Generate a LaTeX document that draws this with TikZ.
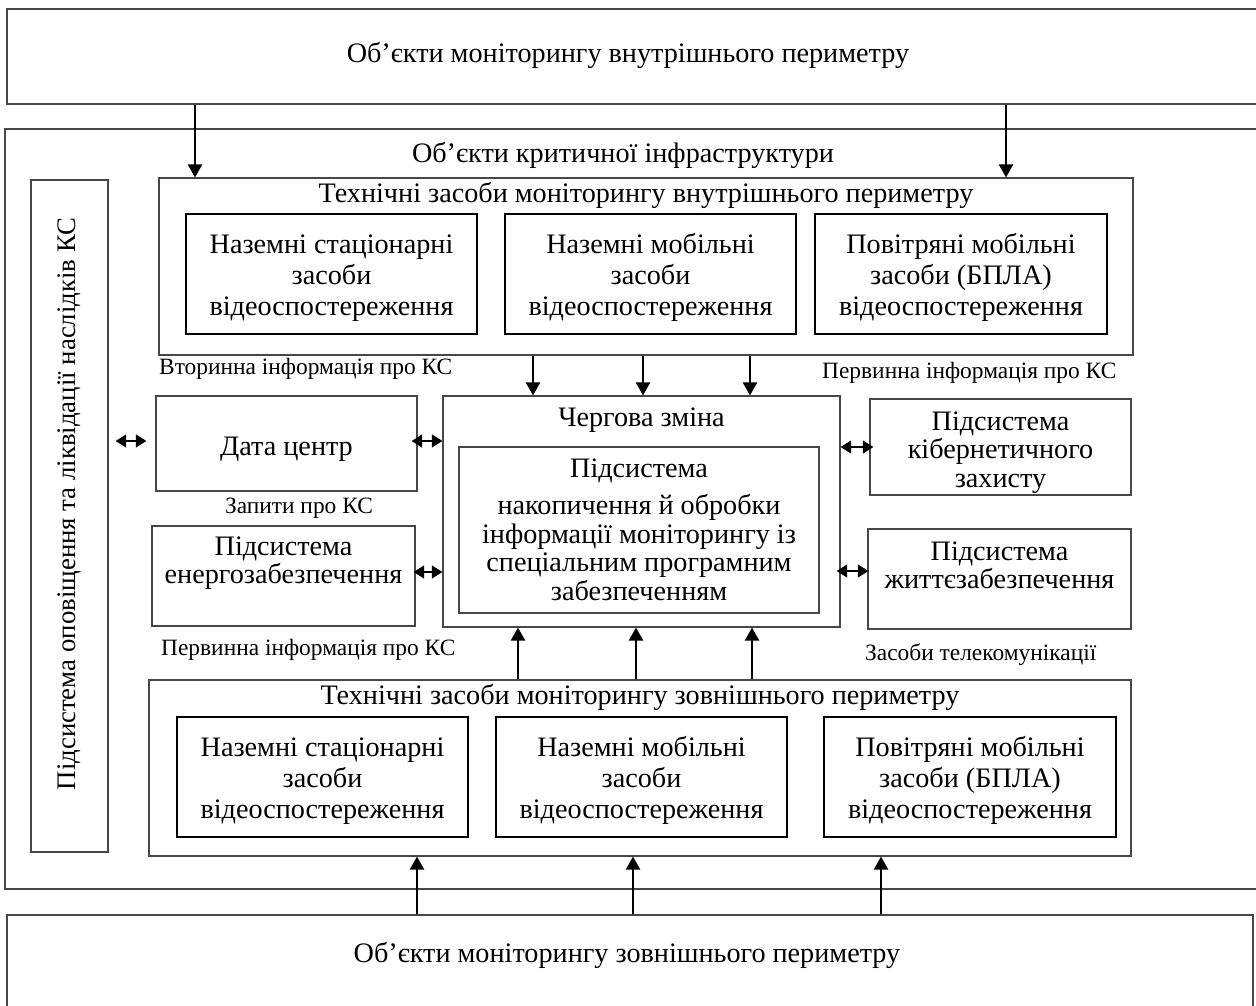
\documentclass[tikz,border=0pt]{standalone}
\usepackage{fontspec}
\setmainfont{Liberation Serif}
\usetikzlibrary{arrows.meta,calc}
\newcommand{\mlines}[2][1]{{\renewcommand{\arraystretch}{#1}\begin{tabular}{@{}c@{}}#2\end{tabular}}}
\newcommand{\lowerby}[2]{\raisebox{-#1}[\height][\depth]{#2}}
\newcommand{\mainfs}{\fontsize{28.2}{31}\selectfont}
\newcommand{\lblfs}{\fontsize{23.4}{27}\selectfont}
\begin{document}
\begin{tikzpicture}[x=1pt,y=-1pt,
  thinbox/.style={draw=black!72,line width=1.1pt,rectangle,inner sep=0pt},
  subbox/.style={draw=black,line width=2pt,rectangle,inner sep=0pt,minimum width=291pt,minimum height=120pt,align=center,font=\mainfs},
  lbl/.style={font=\lblfs,inner sep=0pt},
  ttl/.style={font=\mainfs,inner sep=0pt,align=center},
  arr/.style={line width=2.2pt,-{Triangle[length=13pt,width=14pt]}},
  darr/.style={line width=2.4pt,{Triangle[length=10.5pt,width=12.5pt]}-{Triangle[length=10.5pt,width=12.5pt]}}
]
\useasboundingbox (0,0) rectangle (1256,1005);
\clip (0,0) rectangle (1256,1005);
\fill[white] (0,0) rectangle (1256,1005);

% outer frames
\node[thinbox,minimum width=1260pt,minimum height=95pt] (top) at (637,56.5) {};
\node[ttl] (toptxt) at (628,55) {Об’єкти моніторингу внутрішнього периметру};
\node[thinbox,minimum width=1262pt,minimum height=760pt] (oki) at (636,509) {};
\node[ttl] (okitxt) at (623,155) {Об’єкти критичної інфраструктури};
\node[thinbox,minimum width=1246pt,minimum height=100pt] (bot) at (630,965) {};
\node[ttl] (bottxt) at (627,955) {Об’єкти моніторингу зовнішнього периметру};

% left vertical box
\node[thinbox,minimum width=77pt,minimum height=672pt] (vb) at (69.5,516) {};
\node[inner sep=0pt,font=\fontsize{26.8}{30}\selectfont,rotate=90] (vbtxt) at (69,504) {Підсистема оповіщення та ліквідації наслідків КС};

% top technical box
\node[thinbox,minimum width=974pt,minimum height=177pt] (tt) at (646,266.5) {};
\node[ttl] (tttxt) at (646,195) {Технічні засоби моніторингу внутрішнього периметру};
\node[subbox] (t1) at (331.5,274) {\lowerby{4pt}{\mlines{Наземні стаціонарні\\засоби\\відеоспостереження}}};
\node[subbox] (t2) at (650.5,274) {\lowerby{4pt}{\mlines{Наземні мобільні\\засоби\\відеоспостереження}}};
\node[subbox,minimum width=292pt] (t3) at (961,274) {\lowerby{4pt}{\mlines{Повітряні мобільні\\засоби (БПЛА)\\відеоспостереження}}};

% labels
\node[lbl,anchor=west] (l1) at (159,369) {Вторинна інформація про КС};
\node[lbl,anchor=west] (l2) at (822,373) {Первинна інформація про КС};
\node[lbl] (l3) at (299,508) {Запити про КС};
\node[lbl,anchor=west] (l4) at (161,650) {Первинна інформація про КС};
\node[lbl,anchor=west] (l5) at (865,655) {Засоби телекомунікації};

% middle row
\node[thinbox,minimum width=261pt,minimum height=95pt,font=\mainfs] (dc) at (286.5,443.5) {\lowerby{6pt}{Дата центр}};
\node[thinbox,minimum width=263pt,minimum height=100pt,font=\mainfs] (en) at (283.5,576) {\lowerby{2pt}{\mlines[0.92]{Підсистема\\енергозабезпечення\\\mbox{}}}};
\node[thinbox,minimum width=397pt,minimum height=231pt] (ch) at (641.5,511.5) {};
\node[ttl] (chtxt) at (641.5,418) {\lowerby{2pt}{Чергова зміна}};
\node[thinbox,minimum width=360pt,minimum height=166pt,font=\mainfs,align=center] (sp) at (639,530) {Підсистема\\[6pt]накопичення й обробки\\[-2.5pt]інформації моніторингу із\\[-2.5pt]спеціальним програмним\\[-2.5pt]забезпеченням};
\node[thinbox,minimum width=261pt,minimum height=96pt,font=\mainfs] (cy) at (1000.5,447) {\lowerby{6pt}{\mlines[0.92]{Підсистема\\кібернетичного\\захисту}}};
\node[thinbox,minimum width=263pt,minimum height=100pt,font=\mainfs] (lf) at (999.5,579) {\lowerby{4pt}{\mlines[0.92]{Підсистема\\життєзабезпечення\\\mbox{}}}};

% bottom technical box
\node[thinbox,minimum width=982pt,minimum height=176pt] (bt) at (640,768) {};
\node[ttl] (bttxt) at (640,697) {Технічні засоби моніторингу зовнішнього периметру};
\node[subbox] (b1) at (322.5,777) {\lowerby{4pt}{\mlines{Наземні стаціонарні\\засоби\\відеоспостереження}}};
\node[subbox] (b2) at (641.5,777) {\lowerby{4pt}{\mlines{Наземні мобільні\\засоби\\відеоспостереження}}};
\node[subbox,minimum width=292pt] (b3) at (970,777) {\lowerby{4pt}{\mlines{Повітряні мобільні\\засоби (БПЛА)\\відеоспостереження}}};

% arrows
\draw[arr] (195,0 |- top.south) -- (195,0 |- tt.north);
\draw[arr] (1006,0 |- top.south) -- (1006,0 |- tt.north);
\foreach \x in {533,643,750} \draw[arr] (\x,0 |- tt.south) -- (\x,0 |- ch.north);
\foreach \x in {518,636,752} \draw[arr] (\x,0 |- bt.north) -- (\x,0 |- ch.south);
\foreach \x in {417,633,881} \draw[arr] (\x,0 |- bot.north) -- (\x,0 |- bt.south);

\draw[darr] ([xshift=7]vb.east |- 0,441) -- ([xshift=-9]dc.west |- 0,441);
\draw[darr] ([xshift=-6]dc.east |- 0,441) -- (ch.west |- 0,441);
\draw[darr] ([xshift=-2]en.east |- 0,572) -- (ch.west |- 0,572);
\draw[darr] (ch.east |- 0,447) -- ([xshift=4]cy.west |- 0,447);
\draw[darr] ([xshift=-4]ch.east |- 0,571) -- ([xshift=1]lf.west |- 0,571);
\end{tikzpicture}
\end{document}
